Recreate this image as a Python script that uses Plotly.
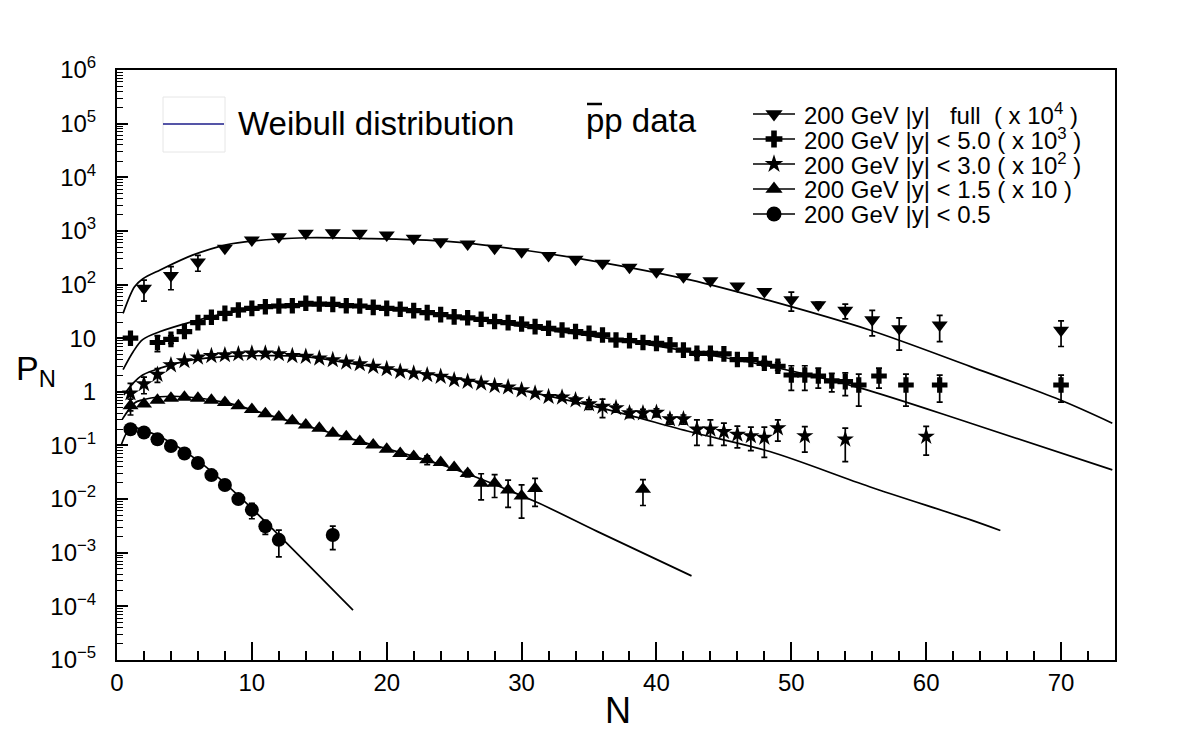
import numpy as np
import plotly.graph_objects as go

# ---------------- data ----------------
# |y| full  (x 10^4)
N_full = [2, 4, 6, 8, 10, 12, 14, 16, 18, 20, 22, 24, 26, 28, 30, 32, 34, 36, 38, 40,
          42, 44, 46, 48, 50, 52, 54, 56, 58, 61, 70]
P_full = [85, 148, 263, 473, 677, 780, 900, 926, 900, 839, 728, 631, 570, 473, 410, 347,
          296, 249, 209, 174, 140, 118, 94, 74, 52, 42, 33, 22, 15, 17.6, 14]
E_full = [36, 68, 86, 0, 0, 0, 0, 0, 0, 0, 0, 0, 0, 0, 0, 0,
          0, 0, 0, 0, 0, 0, 0, 0, 20, 5, 10, 11, 9, 9, 7]

# |y| < 5.0  (x 10^3)
N_y50 = [1, 3, 4, 5, 6, 7, 8, 9, 10, 11, 12, 13, 14, 15, 16, 17, 18, 19, 20, 21, 22, 23,
         24, 25, 26, 27, 28, 29, 30, 31, 32, 33, 34, 35, 36, 37, 38, 39, 40, 41, 42, 43,
         44, 45, 46, 47, 48, 49, 50, 51, 52, 53, 54, 55, 56.5, 58.5, 61, 70]
P_y50 = [10, 8.3, 9.5, 13.3, 19.5, 24.5, 29, 33.6, 36, 38.6, 39.8, 40.3, 44.7, 43.4, 42.7,
         40.3, 39.8, 37.6, 36, 34.6, 32.6, 29.9, 27.5, 25, 24, 22.5, 20.4, 19.5, 18.4, 16.4,
         15.3, 14.2, 13.3, 12.3, 11.5, 9.25, 9.0, 8.3, 8.0, 7.5, 6.0, 5.2, 5.2, 5.1, 4.0,
         4.0, 3.4, 3.0, 2.06, 2.06, 1.97, 1.6, 1.55, 1.34, 1.97, 1.34, 1.34, 1.34]
E_y50 = [0, 2.7, 1.5, 0, 0, 0, 0, 0, 0, 0, 0, 0, 0, 0, 0, 0, 0, 0, 0, 0, 0, 0,
         0, 0, 0, 0, 0, 0, 0, 0, 0, 0, 0, 0, 0, 0, 0, 0, 0, 0, 0, 0.6,
         0.6, 0, 0, 0, 0.4, 0.5, 1.0, 1.0, 0.8, 0.6, 0.7, 0.8, 0.8, 0.8, 0.7, 0.7]

# |y| < 3.0  (x 10^2)
N_y30 = list(range(1, 49)) + [49, 51, 54, 60]
P_y30 = [0.94, 1.4, 2.1, 3.16, 3.76, 4.4, 4.7, 4.86, 5.07, 5.2, 5.2, 5.07, 4.7, 4.53, 4.22,
         3.93, 3.55, 3.3, 2.95, 2.67, 2.38, 2.22, 2.06, 1.92, 1.66, 1.55, 1.44, 1.29, 1.22,
         1.08, 0.94, 0.81, 0.79, 0.70, 0.59, 0.53, 0.50, 0.40, 0.40, 0.41, 0.31, 0.31, 0.20,
         0.20, 0.18, 0.16, 0.15, 0.14, 0.21, 0.15, 0.13, 0.146]
E_y30 = [0.5, 0.48, 0.6, 0.3, 0, 0, 0, 0, 0, 0, 0, 0, 0, 0, 0, 0, 0, 0, 0, 0, 0, 0, 0, 0,
         0, 0, 0, 0, 0, 0, 0, 0, 0.1, 0.1, 0.12, 0.2, 0.08, 0.07, 0.07, 0.07, 0.06, 0.06,
         0.1, 0.1, 0.08, 0.07, 0.07, 0.08, 0.09, 0.075, 0.08, 0.08]

# |y| < 1.5  (x 10)
N_y15 = list(range(1, 32)) + [39]
P_y15 = [0.55, 0.59, 0.70, 0.76, 0.79, 0.76, 0.70, 0.63, 0.55, 0.47, 0.39, 0.34, 0.29, 0.24,
         0.21, 0.169, 0.146, 0.118, 0.102, 0.085, 0.071, 0.062, 0.054, 0.048, 0.039, 0.030,
         0.0197, 0.0197, 0.0148, 0.0114, 0.0158, 0.0153]
E_y15 = [0.18, 0, 0, 0, 0, 0, 0, 0, 0, 0, 0, 0, 0, 0, 0, 0, 0, 0, 0, 0, 0, 0, 0.01, 0,
         0, 0.004, 0.01, 0.009, 0.0078, 0.007, 0.0085, 0.0077]

# |y| < 0.5
N_y05 = [1, 2, 3, 4, 5, 6, 7, 8, 9, 10, 11, 12, 16]
P_y05 = [0.20, 0.174, 0.13, 0.098, 0.071, 0.047, 0.028, 0.0183, 0.010, 0.0063, 0.0031,
         0.00174, 0.00214]
E_y05 = [0, 0, 0, 0, 0, 0, 0, 0, 0, 0.002, 0.0009, 0.0009, 0.001]

# Weibull curves
CN_full = [0.45, 1.3, 1.9, 3.2, 5.6, 8.1, 10.1, 14.0, 18.1, 24.5, 30.1, 36.3, 42.5, 48.4,
           55.8, 63.3, 69.9, 73.8]
CP_full = [29, 91, 127, 187, 353, 550, 650, 745, 727, 640, 440, 249, 122, 50, 14.2, 2.95,
           0.71, 0.26]
CN_y50 = [0.45, 1.2, 1.9, 3.2, 5.6, 8.1, 10.1, 14.0, 18.1, 24.5, 30.1, 36.3, 42.5, 48.4,
          55.0, 63.3, 73.8]
CP_y50 = [2.6, 5.6, 9.4, 13.3, 20.4, 29, 34.6, 39.8, 38.6, 27, 16.4, 10, 5.6, 3.0, 1.2,
          0.26, 0.035]
CN_y30 = [0.5, 1.2, 1.9, 3.2, 5.6, 8.1, 10.1, 14.0, 18.1, 24.5, 30.1, 36.3, 42.5, 48.4,
          55.8, 63.3, 65.5]
CP_y30 = [0.87, 1.45, 2.06, 2.76, 3.93, 4.53, 4.7, 4.53, 3.16, 1.92, 1.05, 0.47, 0.18,
          0.077, 0.017, 0.0041, 0.0026]
CN_y15 = [0.4, 1.3, 1.9, 3.2, 5.1, 8.1, 12.1, 18.1, 24.5, 31.0, 35.6, 42.6]
CP_y15 = [0.31, 0.62, 0.71, 0.81, 0.81, 0.63, 0.32, 0.118, 0.040, 0.009, 0.0025, 0.00037]
CN_y05 = [0.3, 0.7, 1.1, 2.0, 3.2, 6.1, 9.1, 12.1, 17.5]
CP_y05 = [0.10, 0.17, 0.22, 0.19, 0.146, 0.05, 0.011, 0.002, 0.000085]

legend_labels = [
    "200 GeV |y|\u00a0\u00a0 full\u00a0 ( x 10<sup>4</sup> )",
    "200 GeV |y| < 5.0 ( x 10<sup>3</sup> )",
    "200 GeV |y| < 3.0 ( x 10<sup>2</sup> )",
    "200 GeV |y| < 1.5 ( x 10 )",
    "200 GeV |y| < 0.5",
]
y_tickvals = [1e-5, 1e-4, 1e-3, 1e-2, 1e-1, 1, 10, 1e2, 1e3, 1e4, 1e5, 1e6]
y_ticktext = ["10<sup>\u22125</sup>", "10<sup>\u22124</sup>", "10<sup>\u22123</sup>",
              "10<sup>\u22122</sup>", "10<sup>\u22121</sup>", "1", "10", "10<sup>2</sup>",
              "10<sup>3</sup>", "10<sup>4</sup>", "10<sup>5</sup>", "10<sup>6</sup>"]

# ---------------- styling ----------------
FONT = "Liberation Sans, Arial, sans-serif"
W, H = 1182, 738
L, R, T, B = 117, 1115, 70, 660   # plot area in pixels

def px(x):
    return (x - L) / (R - L)

def py(y):
    return (B - y) / (B - T)

series = [
    (N_full, P_full, E_full, "triangle-down", 14),
    (N_y50, P_y50, E_y50, "cross", 13),
    (N_y30, P_y30, E_y30, "star", 13),
    (N_y15, P_y15, E_y15, "triangle-up", 14),
    (N_y05, P_y05, E_y05, "circle", 14),
]
curves = [(CN_full, CP_full), (CN_y50, CP_y50), (CN_y30, CP_y30),
          (CN_y15, CP_y15), (CN_y05, CP_y05)]

fig = go.Figure()

for cx, cy in curves:
    fig.add_trace(go.Scatter(x=cx, y=cy, mode="lines", showlegend=False,
                             line=dict(color="black", width=1.7, shape="spline",
                                       smoothing=0.9),
                             hoverinfo="skip"))

for nx, ny, ne, sym, size in series:
    fig.add_trace(go.Scatter(x=nx, y=ny, mode="markers", showlegend=False,
                             marker=dict(symbol=sym, size=size, color="black",
                                         line=dict(width=0)),
                             error_y=dict(type="data", array=ne, visible=True,
                                          color="black", thickness=1.7, width=3)))

# custom legend (pixel-positioned overlay axes)
row_y = [114, 139, 164, 189, 214]
for (nx, ny, ne, sym, size), yy in zip(series, row_y):
    fig.add_trace(go.Scatter(x=[753, 795], y=[yy, yy], xaxis="x2", yaxis="y2",
                             mode="lines", line=dict(color="black", width=1.7),
                             showlegend=False, hoverinfo="skip"))
    fig.add_trace(go.Scatter(x=[774], y=[yy], xaxis="x2", yaxis="y2", mode="markers",
                             marker=dict(symbol=sym, size=size + 1, color="black",
                                         line=dict(width=0)),
                             showlegend=False, hoverinfo="skip"))

annotations = []
for yy, lab in zip(row_y, legend_labels):
    annotations.append(dict(x=px(802), y=py(yy), xref="paper", yref="paper",
                            text=lab, showarrow=False, xanchor="left", yanchor="middle",
                            font=dict(family=FONT, size=24, color="black")))

annotations += [
    dict(x=px(236), y=py(123), xref="paper", yref="paper", text="Weibull distribution",
         showarrow=False, xanchor="left", yanchor="middle",
         font=dict(family=FONT, size=33, color="black")),
    dict(x=px(584), y=py(120), xref="paper", yref="paper", text="pp data",
         showarrow=False, xanchor="left", yanchor="middle",
         font=dict(family=FONT, size=33, color="black")),
    dict(x=px(618), y=py(710), xref="paper", yref="paper", text="N",
         showarrow=False, xanchor="center", yanchor="middle",
         font=dict(family=FONT, size=36, color="black")),
    dict(x=px(36), y=py(370), xref="paper", yref="paper", text="P<sub>N</sub>",
         showarrow=False, xanchor="center", yanchor="middle",
         font=dict(family=FONT, size=34, color="black")),
]

shapes = [
    dict(type="rect", xref="paper", yref="paper", x0=px(163), x1=px(225),
         y0=py(97), y1=py(152), line=dict(color="#e6e6e6", width=1)),
    dict(type="line", xref="paper", yref="paper", x0=px(163), x1=px(224),
         y0=py(124), y1=py(124), line=dict(color="#1c1c8a", width=1.6)),
    dict(type="line", xref="paper", yref="paper", x0=px(587), x1=px(602),
         y0=py(104), y1=py(104), line=dict(color="black", width=2.5)),
]

minor_y = [m * 10.0 ** e for e in range(-5, 6) for m in range(2, 10)]

fig.update_layout(
    width=W, height=H,
    margin=dict(l=L, r=W - R, t=T, b=H - B, pad=0),
    paper_bgcolor="white", plot_bgcolor="white",
    font=dict(family=FONT, size=24, color="black"),
    showlegend=False,
    xaxis=dict(range=[0, 74.0], showline=True, linecolor="black", linewidth=2,
               mirror=True, ticks="inside", ticklen=18, tickwidth=1.5, tickcolor="black",
               tick0=0, dtick=10, showgrid=False, zeroline=False,
               tickfont=dict(family=FONT, size=24),
               minor=dict(dtick=2, tick0=0, ticks="inside", ticklen=9, tickwidth=1.5,
                          tickcolor="black", showgrid=False)),
    yaxis=dict(type="log", range=[-5, 6], showline=True, linecolor="black", linewidth=2,
               mirror=True, ticks="inside", ticklen=11, tickwidth=1.5, tickcolor="black",
               tickmode="array", tickvals=y_tickvals, ticktext=y_ticktext,
               showgrid=False, zeroline=False, ticklabelstandoff=14,
               tickfont=dict(family=FONT, size=24),
               minor=dict(tickmode="array", tickvals=minor_y, ticks="inside", ticklen=6,
                          tickwidth=1.2, tickcolor="black", showgrid=False)),
    xaxis2=dict(overlaying="x", anchor="y2", range=[L, R], visible=False),
    yaxis2=dict(overlaying="y", anchor="x2", range=[B, T], visible=False),
    annotations=annotations,
    shapes=shapes,
)

fig.write_html("out.html")
